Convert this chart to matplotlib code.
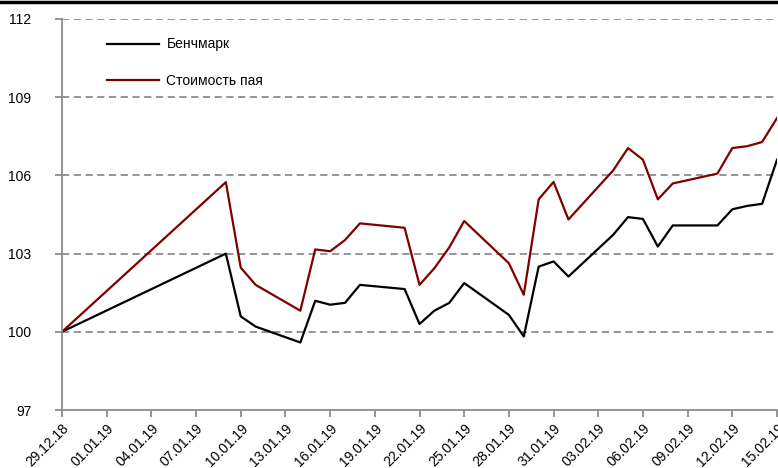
import matplotlib
matplotlib.use("Agg")
import matplotlib.pyplot as plt
import matplotlib.dates as mdates
import matplotlib.transforms as mtransforms
import pandas as pd

plt.rcParams['font.family'] = ['Liberation Sans', 'DejaVu Sans']

dates = ["29.12.18", "09.01.19", "10.01.19", "11.01.19", "14.01.19", "15.01.19",
         "16.01.19", "17.01.19", "18.01.19", "21.01.19", "22.01.19", "23.01.19",
         "24.01.19", "25.01.19", "28.01.19", "29.01.19", "30.01.19", "31.01.19",
         "01.02.19", "04.02.19", "05.02.19", "06.02.19", "07.02.19", "08.02.19",
         "11.02.19", "12.02.19", "13.02.19", "14.02.19", "15.02.19"]
benchmark = [100.0, 103.0, 100.59, 100.2, 99.59, 101.19,
             101.04, 101.11, 101.80, 101.64, 100.30, 100.81,
             101.11, 101.87, 100.65, 99.82, 102.5, 102.70,
             102.12, 103.72, 104.40, 104.33, 103.27, 104.08,
             104.08, 104.70, 104.83, 104.91, 106.60]
nav = [100.0, 105.74, 102.46, 101.80, 100.81, 103.16,
       103.09, 103.52, 104.16, 103.99, 101.80, 102.44,
       103.24, 104.25, 102.63, 101.42, 105.08, 105.75,
       104.31, 106.19, 107.05, 106.60, 105.08, 105.69,
       106.07, 107.05, 107.12, 107.28, 108.20]
labels = ["Бенчмарк", "Стоимость пая"]
yticks = [97, 100, 103, 106, 109, 112]

x = pd.to_datetime(dates, format="%d.%m.%y")

fig = plt.figure(figsize=(7.78, 4.68), dpi=100)
ax = fig.add_axes([62/778, 1 - 410/468, (777-62)/778, (410-19)/468])

ax.plot(x, benchmark, color="black", lw=1.6, label=labels[0])
ax.plot(x, nav, color="#800000", lw=1.6, label=labels[1])

ax.set_ylim(97, 112)
ax.set_yticks(yticks)
ax.set_xlim(x[0], x[-1])
tick_dates = pd.date_range(x[0], x[-1], freq="3D")
ax.set_xticks(tick_dates)
ax.xaxis.set_major_formatter(mdates.DateFormatter("%d.%m.%y"))
shift = mtransforms.ScaledTranslation(-0.04, 0, fig.dpi_scale_trans)
for lab in ax.get_xticklabels():
    lab.set_rotation(45)
    lab.set_ha("right")
    lab.set_rotation_mode("anchor")
    lab.set_transform(lab.get_transform() + shift)

for y in yticks[1:]:
    ax.axhline(y, color="#8c8c8c", lw=1.3, ls=(0, (4, 2.5)), zorder=0)

for s in ["top", "right"]:
    ax.spines[s].set_visible(False)
for s in ["left", "bottom"]:
    ax.spines[s].set_color("#8c8c8c")
    ax.spines[s].set_linewidth(1.3)
ax.tick_params(axis="both", colors="#8c8c8c", length=5, width=1.3, labelcolor="black", labelsize=10)
ax.tick_params(axis="y", pad=17)
ax.tick_params(axis="x", pad=3)

leg = ax.legend(loc="upper left", bbox_to_anchor=(0.045, 0.985), frameon=False, fontsize=10,
                handlelength=3.8, labelspacing=1.6, handletextpad=0.5)

fig.add_artist(plt.Line2D([0, 1], [1 - 1.5/468, 1 - 1.5/468], color="black", lw=2.5,
                          transform=fig.transFigure))

fig.savefig("out.png", dpi=100)
